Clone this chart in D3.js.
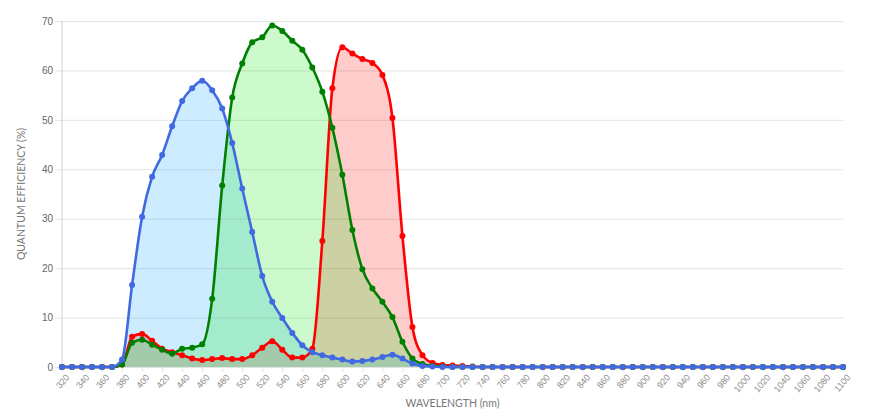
<!DOCTYPE html>
<html>
<head>
<meta charset="utf-8">
<script src="https://cdn.jsdelivr.net/npm/d3@7"></script>
<style>
  html, body { margin: 0; padding: 0; background: #fff; }
  svg { display: block; font-family: "Lato", "Open Sans", sans-serif; }
</style>
</head>
<body>
<svg id="chart" width="871" height="414"></svg>
<script>
// Wavelengths (nm), one sample every 10 nm
const wavelengths = [320,330,340,350,360,370,380,390,400,410,420,430,440,450,460,470,480,490,500,510,520,530,540,550,560,570,580,590,600,610,620,630,640,650,660,670,680,690,700,710,720,730,740,750,760,770,780,790,800,810,820,830,840,850,860,870,880,890,900,910,920,930,940,950,960,970,980,990,1000,1010,1020,1030,1040,1050,1060,1070,1080,1090,1100];

// Quantum efficiency (%) per channel
const blueQE = [0,0,0,0,0,0,1.5,16.6,30.4,38.5,42.9,48.7,53.8,56.4,57.9,56.0,52.3,45.3,36.1,27.3,18.4,13.2,9.9,6.9,4.4,3.0,2.4,1.9,1.5,1.1,1.2,1.5,2.0,2.5,1.7,0.7,0.2,0.1,0,0,0,0,0,0,0,0,0,0,0,0,0,0,0,0,0,0,0,0,0,0,0,0,0,0,0,0,0,0,0,0,0,0,0,0,0,0,0,0,0];
const greenQE = [0,0,0,0,0,0,0.5,4.9,5.5,4.5,3.5,2.7,3.7,3.9,4.6,13.8,36.7,54.5,61.4,65.7,66.7,69.1,68.0,66.0,64.2,60.6,55.7,48.4,38.9,27.7,19.8,15.9,13.2,10.1,5.1,1.7,0.6,0.2,0.1,0,0,0,0,0,0,0,0,0,0,0,0,0,0,0,0,0,0,0,0,0,0,0,0,0,0,0,0,0,0,0,0,0,0,0,0,0,0,0,0];
const redQE = [0,0,0,0,0,0,0.5,6.1,6.7,5.3,3.7,3.0,2.4,1.7,1.4,1.6,1.8,1.6,1.6,2.4,3.9,5.2,3.5,1.9,1.9,3.7,25.5,56.4,64.7,63.4,62.3,61.5,59.1,50.4,26.5,8.1,2.4,0.8,0.4,0.3,0.2,0.1,0,0,0,0,0,0,0,0,0,0,0,0,0,0,0,0,0,0,0,0,0,0,0,0,0,0,0,0,0,0,0,0,0,0,0,0,0];

const xTickLabels = [320,340,360,380,400,420,440,460,480,500,520,540,560,580,600,620,640,660,680,700,720,740,760,780,800,820,840,860,880,900,920,940,960,980,1000,1020,1040,1060,1080,1100];
const yTickLabels = [0,10,20,30,40,50,60,70];

const xTitle = "WAVELENGTH (nm)";
const yTitle = "QUANTUM EFFICIENCY (%)";

const W = 871, H = 414;
const margin = { top: 21, right: 28, bottom: 47, left: 62 };
const iw = W - margin.left - margin.right;
const ih = H - margin.top - margin.bottom;

const svg = d3.select("#chart");
const g = svg.append("g").attr("transform", `translate(${margin.left},${margin.top})`);

const x = d3.scaleLinear().domain([320, 1100]).range([0, iw]);
const y = d3.scaleLinear().domain([0, 70]).range([ih, 0]);

// Grid
const yAxis = d3.axisLeft(y).tickValues(yTickLabels).tickSize(-iw).tickPadding(4).tickFormat(d3.format("d"));
const yg = g.append("g").call(yAxis);
yg.select(".domain").remove();
yg.selectAll(".tick line").attr("stroke", "#e4e4e4").attr("x1", -7);
yg.selectAll(".tick text").attr("fill", "#666").attr("font-size", 10).attr("x", -9);

const xAxis = d3.axisBottom(x).tickValues(xTickLabels).tickSize(-ih).tickPadding(4).tickFormat(d3.format("d"));
const xg = g.append("g").attr("transform", `translate(0,${ih})`).call(xAxis);
xg.select(".domain").remove();
xg.selectAll(".tick line").attr("stroke", "#e4e4e4").attr("y2", 5);
xg.selectAll(".tick text")
  .attr("fill", "#8c8c8c")
  .attr("font-size", 9)
  .attr("text-anchor", "end")
  .attr("dy", "0.35em")
  .attr("transform", "translate(2,6) rotate(-50)");

// left axis line
g.append("line").attr("x1", 0).attr("x2", 0).attr("y1", 0).attr("y2", ih).attr("stroke", "#cfcfcf");

const series = [
  { name: "red", values: redQE, stroke: "#ff0000", fill: "rgba(255,0,0,0.2)" },
  { name: "blue", values: blueQE, stroke: "#4169e1", fill: "rgba(30,170,255,0.22)" },
  { name: "green", values: greenQE, stroke: "#008000", fill: "rgba(0,230,0,0.2)" }
];
const lineOrder = ["red", "green", "blue"];

const area = d3.area()
  .x((d, i) => x(wavelengths[i]))
  .y0(y(0))
  .y1(d => y(d))
  .curve(d3.curveMonotoneX);
const line = d3.line()
  .x((d, i) => x(wavelengths[i]))
  .y(d => y(d))
  .curve(d3.curveMonotoneX);

// fills
series.forEach(s => {
  g.append("path").datum(s.values).attr("d", area).attr("fill", s.fill);
});
// lines + points
lineOrder.map(n => series.find(s => s.name === n)).forEach(s => {
  g.append("path").datum(s.values).attr("d", line)
    .attr("fill", "none").attr("stroke", s.stroke).attr("stroke-width", 2.6);
  g.append("g").selectAll("circle").data(s.values).join("circle")
    .attr("cx", (d, i) => x(wavelengths[i]))
    .attr("cy", d => y(d))
    .attr("r", 3)
    .attr("fill", s.stroke);
});

// Titles
svg.append("text")
  .attr("x", margin.left + iw / 2)
  .attr("y", 407)
  .attr("text-anchor", "middle")
  .attr("fill", "#777")
  .attr("font-size", 10.5)
  .text(xTitle);

svg.append("text")
  .attr("transform", `translate(25,${margin.top + ih / 2}) rotate(-90)`)
  .attr("text-anchor", "middle")
  .attr("fill", "#777")
  .attr("font-size", 10.5)
  .text(yTitle);
</script>
</body>
</html>
